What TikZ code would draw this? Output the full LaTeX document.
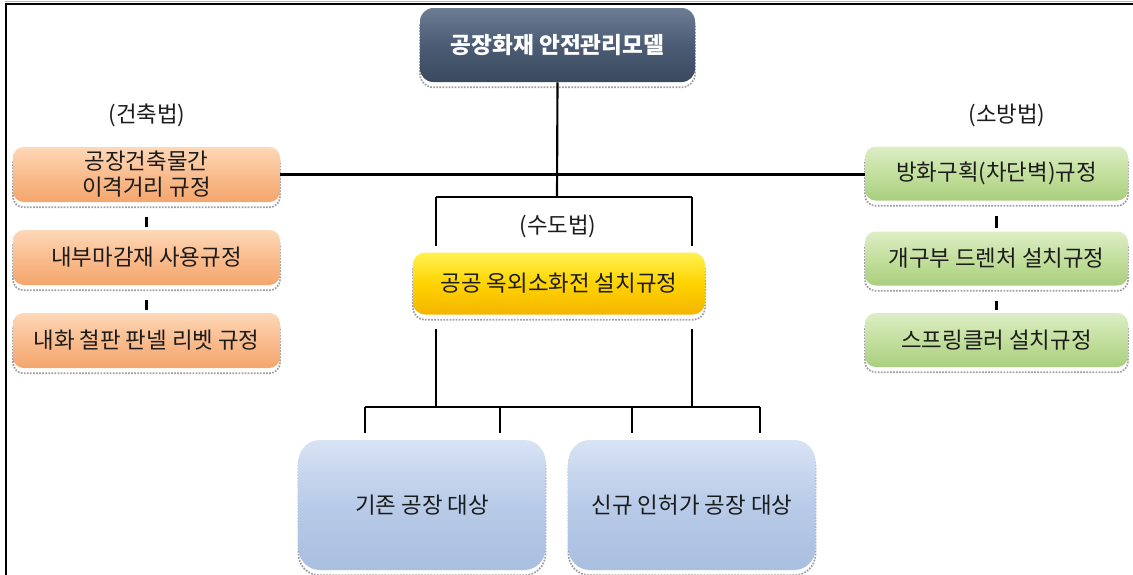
\documentclass[tikz,border=0pt]{standalone}
\usepackage{fontspec}
\setmainfont{Noto Sans CJK KR}
\usetikzlibrary{calc,shadows}
\definecolor{topA}{HTML}{6B7C94}
\definecolor{topB}{HTML}{4B5C74}
\definecolor{topC}{HTML}{3A495E}
\definecolor{orA}{HTML}{FDD8B8}
\definecolor{orB}{HTML}{FABC8E}
\definecolor{orC}{HTML}{F4A66C}
\definecolor{grA}{HTML}{DDEEC6}
\definecolor{grB}{HTML}{C3DF9D}
\definecolor{grC}{HTML}{A9CF7E}
\definecolor{yeA}{HTML}{FFF152}
\definecolor{yeB}{HTML}{FFD400}
\definecolor{yeC}{HTML}{F4B400}
\definecolor{blA}{HTML}{D8E3F4}
\definecolor{blB}{HTML}{B8CBE8}
\definecolor{blC}{HTML}{A9BFE0}
\definecolor{txt}{HTML}{1C1C1C}
\tikzset{
  boxbase/.style={rectangle, inner sep=2pt, align=center, text=txt,
    font=\fontsize{16.8}{19.5}\selectfont,
    general shadow={shadow yshift=-4pt, draw=gray!75, densely dotted, line width=1.3pt}},
  topbox/.style={boxbase, rounded corners=10pt, top color=topA, bottom color=topC, middle color=topB,
    text=white, font=\fontsize{17}{20}\selectfont\bfseries,
    minimum width=275*0.75pt, minimum height=74*0.75pt},
  orbox/.style={boxbase, rounded corners=8pt, top color=orA, bottom color=orC, middle color=orB,
    minimum width=267*0.75pt, minimum height=55*0.75pt},
  grbox/.style={boxbase, rounded corners=8pt, top color=grA, bottom color=grC, middle color=grB,
    minimum width=263*0.75pt, minimum height=54*0.75pt},
  yebox/.style={boxbase, rounded corners=9pt, top color=yeA, bottom color=yeC, middle color=yeB,
    minimum width=292*0.75pt, minimum height=62*0.75pt},
  blbox/.style={boxbase, rounded corners=16pt, top color=blA, bottom color=blC, middle color=blB,
    minimum width=247*0.75pt, minimum height=130*0.75pt},
  lawlabel/.style={text=txt, font=\fontsize{16.8}{19}\selectfont, inner sep=0pt},
  conn/.style={draw=black, line width=1.6pt},
  tick/.style={draw=black, line width=2pt},
}
\begin{document}
\begin{tikzpicture}[x=0.75pt, y=-0.75pt]
\useasboundingbox (0,0) rectangle (1133,575);
% frame
\draw[line width=1.5pt] (5.5,575) -- (5.5,3.5) -- (1133,3.5);
\draw[gray!60, line width=0.8pt] (5,1.5) -- (1133,1.5);

% junction coordinates
\coordinate (j0) at (557,197);
\coordinate (jL) at (436,197);
\coordinate (jR) at (692,197);
\coordinate (kL) at (436,407);
\coordinate (kR) at (692,407);
\coordinate (h1) at (365,407);
\coordinate (h2) at (500,407);
\coordinate (h3) at (632,407);
\coordinate (h4) at (760,407);

% nodes
\node[topbox] (top) at (557.5,45) {공장화재 안전관리모델};

\node[lawlabel] (lawA) at (147,115) {(건축법)};
\node[lawlabel] (lawF) at (1007,115) {(소방법)};
\node[lawlabel] (lawW) at (558,226) {(수도법)};

\node[orbox] (o1) at (146.5,174.5) {공장건축물간\\이격거리 규정};
\node[orbox] (o2) at (146.5,257.5) {내부마감재 사용규정};
\node[orbox] (o3) at (146.5,340.5) {내화 철판 판넬 리벳 규정};

\node[grbox] (g1) at (996.5,173.5) {방화구획(차단벽)규정};
\node[grbox] (g2) at (996.5,258.5) {개구부 드렌처 설치규정};
\node[grbox] (g3) at (996.5,340) {스프링클러 설치규정};

\node[yebox] (ye) at (559,283.5) {공공 옥외소화전 설치규정};

\node[blbox] (b1) at (422,505) {기존 공장 대상};
\node[blbox] (b2) at (692,505) {신규 인허가 공장 대상};

% lines
\draw[conn] (top.south) -- (j0);
\draw[conn] (o1.east) -- (o1.east -| g1.west);
\draw[conn] (jL) -- (jR);
\draw[conn] (jL) -- ($(jL |- ye.north)+(0,-6)$);
\draw[conn] (jR) -- ($(jR |- ye.north)+(0,-6)$);
\draw[conn] ($(kL |- ye.south)+(0,14)$) -- (kL);
\draw[conn] ($(kR |- ye.south)+(0,14)$) -- (kR);
\draw[conn] (h1) -- (h4);
\draw[conn] (h1) -- ($(h1 |- b1.north)+(0,-7)$);
\draw[conn] (h2) -- ($(h2 |- b1.north)+(0,-7)$);
\draw[conn] (h3) -- ($(h3 |- b2.north)+(0,-7)$);
\draw[conn] (h4) -- ($(h4 |- b2.north)+(0,-7)$);

\draw[tick] ($(o1.south)+(0,15)$) -- ($(o2.north)+(0,-3)$);
\draw[tick] ($(o2.south)+(0,15)$) -- ($(o3.north)+(0,-3)$);
\draw[tick] ($(g1.south)+(0,15)$) -- ($(g2.north)+(0,-3)$);
\draw[tick] ($(g2.south)+(0,15)$) -- ($(g3.north)+(0,-3)$);
\end{tikzpicture}
\end{document}
